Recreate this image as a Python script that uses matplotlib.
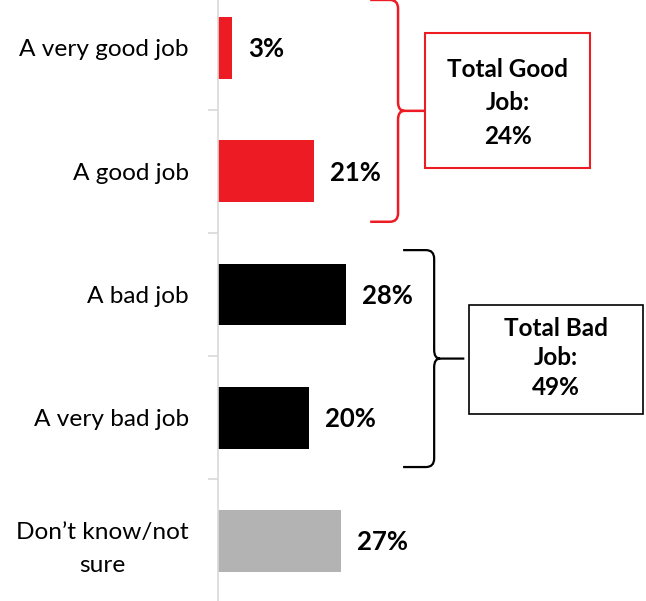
import matplotlib.pyplot as plt
from matplotlib.patches import Rectangle, PathPatch
from matplotlib.path import Path

categories = ["A very good job", "A good job", "A bad job", "A very bad job",
              "Don\u2019t know/not\nsure"]
values = [3, 21, 28, 20, 27]
colors = ["#ED1C24", "#ED1C24", "#000000", "#000000", "#B3B3B3"]
good_total = 24
bad_total = 49

plt.rcParams['font.family'] = ['Lato', 'DejaVu Sans']


def brace(ax, x, y0, y1, arm, tip, stub, color, lw):
    # curly brace opening to the left, tip pointing right at the middle
    ym = (y0 + y1) / 2
    cx = 1.8
    r = 0.07
    verts = [(x - arm, y0), (x - cx, y0), (x, y0), (x, y0 + r),
             (x, ym - r), (x, ym), (x + tip, ym), (x + tip + stub, ym),
             (x + tip, ym), (x, ym), (x, ym + r),
             (x, y1 - r), (x, y1), (x - cx, y1), (x - arm, y1)]
    codes = [Path.MOVETO, Path.LINETO, Path.CURVE3, Path.CURVE3,
             Path.LINETO, Path.CURVE3, Path.CURVE3, Path.LINETO,
             Path.MOVETO, Path.CURVE3, Path.CURVE3,
             Path.LINETO, Path.CURVE3, Path.CURVE3, Path.LINETO]
    ax.add_patch(PathPatch(Path(verts, codes), fill=False, edgecolor=color,
                           lw=lw, clip_on=False, capstyle='butt'))


fig = plt.figure(figsize=(6.46, 6.01), dpi=100)
ax = fig.add_axes([218 / 646, -0.0027, 428 / 646, 1.0254])

pos = list(range(len(values)))
ax.barh(pos, values, height=0.5, color=colors)
ax.set_ylim(4.5, -0.5)
ax.set_xlim(0, 428 / 4.57)

for i, v in zip(pos, values):
    ax.annotate(f"{v}%", (v, i), xytext=(11.5, -1), textcoords='offset points',
                va='center', ha='left', fontsize=18.5, fontweight='bold')

ax.set_yticks(pos)
ax.set_yticklabels(categories, fontsize=17.6)
for lab in ax.get_yticklabels():
    lab.set_multialignment('center')
    lab.set_linespacing(1.7)
ax.set_yticks([p + 0.5 for p in pos[:-1]], minor=True)
ax.tick_params(axis='y', which='major', length=0, pad=21)
ax.tick_params(axis='y', which='minor', length=7.5, width=1.2, color='#D9D9D9')
ax.set_xticks([])
for s in ['top', 'right', 'bottom']:
    ax.spines[s].set_visible(False)
ax.spines['left'].set_color('#D9D9D9')
ax.spines['left'].set_linewidth(1.2)

# braces and total boxes
brace(ax, 39.4, -0.39, 1.41, 6.1, 1.4, 4.5, '#ED1C24', 1.8)
brace(ax, 47.3, 1.64, 3.40, 6.8, 1.3, 5.3, '#000000', 1.6)

ax.add_patch(Rectangle((45.3, -0.12), 36.1, 1.095, fill=False,
                       edgecolor='#ED1C24', lw=1.5, clip_on=False))
ax.add_patch(Rectangle((54.9, 2.085), 38.1, 0.885, fill=False,
                       edgecolor='#000000', lw=1.2, clip_on=False))

ax.text(63.35, 0.446, f"Total Good\nJob:\n{good_total}%", ha='center',
        va='center', fontsize=17.5, fontweight='bold', linespacing=1.55)
ax.text(73.95, 2.515, f"Total Bad\nJob:\n{bad_total}%", ha='center',
        va='center', fontsize=17.5, fontweight='bold', linespacing=1.33)

fig.savefig('out.png', dpi=100)
